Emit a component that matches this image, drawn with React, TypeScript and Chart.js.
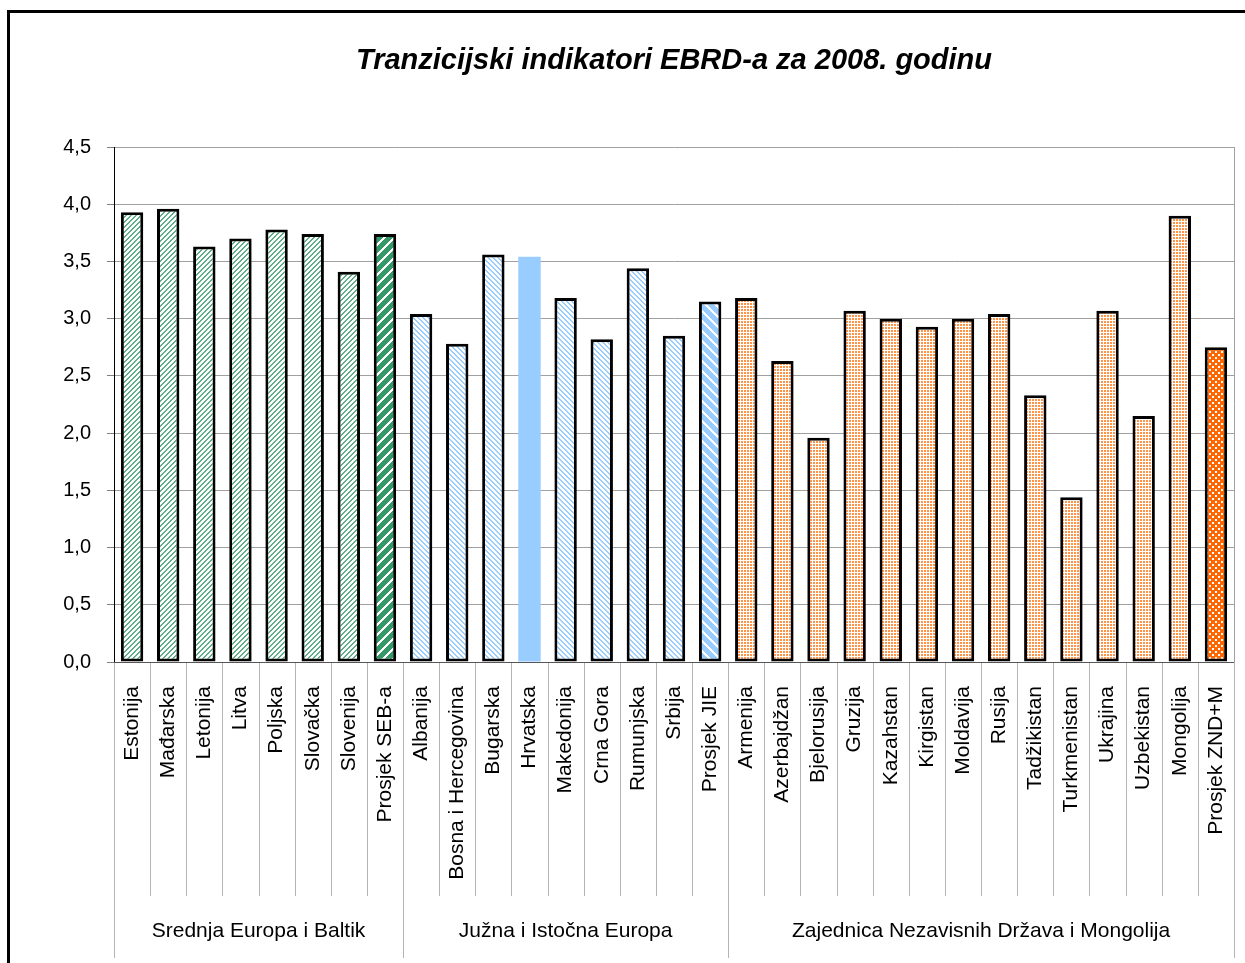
import React, { useEffect, useRef } from 'react';
import { Chart, registerables } from 'chart.js';

Chart.register(...registerables);

const titleText = 'Tranzicijski indikatori EBRD-a za 2008. godinu';

const categories = [
  'Estonija', 'Mađarska', 'Letonija', 'Litva', 'Poljska', 'Slovačka', 'Slovenija', 'Prosjek SEB-a',
  'Albanija', 'Bosna i Hercegovina', 'Bugarska', 'Hrvatska', 'Makedonija', 'Crna Gora', 'Rumunjska', 'Srbija', 'Prosjek JIE',
  'Armenija', 'Azerbajdžan', 'Bjelorusija', 'Gruzija', 'Kazahstan', 'Kirgistan', 'Moldavija', 'Rusija',
  'Tadžikistan', 'Turkmenistan', 'Ukrajina', 'Uzbekistan', 'Mongolija', 'Prosjek ZND+M',
];

const values = [
  3.93, 3.96, 3.63, 3.70, 3.78, 3.74, 3.41, 3.74,
  3.04, 2.78, 3.56, 3.54, 3.18, 2.82, 3.44, 2.85, 3.15,
  3.18, 2.63, 1.96, 3.07, 3.00, 2.93, 3.00, 3.04,
  2.33, 1.44, 3.07, 2.15, 3.90, 2.75,
];

// fill style key per bar
const styleKeys = [
  'gL', 'gL', 'gL', 'gL', 'gL', 'gL', 'gL', 'gD',
  'bL', 'bL', 'bL', 'bS', 'bL', 'bL', 'bL', 'bL', 'bD',
  'oL', 'oL', 'oL', 'oL', 'oL', 'oL', 'oL', 'oL',
  'oL', 'oL', 'oL', 'oL', 'oL', 'oD',
];

const groupNames = ['Srednja Europa i Baltik', 'Južna i Istočna Europa', 'Zajednica Nezavisnih Država i Mongolija'];
const groupSizes = [8, 9, 14];

const yMin = 0;
const yMax = 4.5;
const yStep = 0.5;

const FONT = '"Liberation Sans", Arial, sans-serif';

function makePattern(
  main: CanvasRenderingContext2D,
  size: number,
  bg: string,
  fg: string,
  test: (x: number, y: number) => boolean,
) {
  const c = document.createElement('canvas');
  c.width = size;
  c.height = size;
  const ctx = c.getContext('2d')!;
  ctx.fillStyle = bg;
  ctx.fillRect(0, 0, size, size);
  ctx.fillStyle = fg;
  for (let y = 0; y < size; y++) {
    for (let x = 0; x < size; x++) {
      if (test(x, y)) ctx.fillRect(x, y, 1, 1);
    }
  }
  return main.createPattern(c, 'repeat') as CanvasPattern;
}

const mod = (a: number, n: number) => ((a % n) + n) % n;

export default function App() {
  const ref = useRef<HTMLCanvasElement | null>(null);

  useEffect(() => {
    document.body.style.margin = '0';
    const canvas = ref.current!;
    const mctx = canvas.getContext('2d')!;

    const fills: Record<string, CanvasPattern | string> = {
      gL: makePattern(mctx, 5, '#ffffff', '#5fb088', (x, y) => mod(x + y, 5) < 2),
      gD: makePattern(mctx, 10, '#339966', '#ffffff', (x, y) => mod(x + y, 10) < 3),
      bL: makePattern(mctx, 5, '#ffffff', '#99ccff', (x, y) => mod(x - y, 5) < 2),
      bD: makePattern(mctx, 10, '#99ccff', '#ffffff', (x, y) => mod(x - y, 10) < 3),
      bS: '#99ccff',
      oL: makePattern(mctx, 3, '#ffffff', '#ff9448', (x, y) => x < 2 && y < 2),
      oD: makePattern(mctx, 6, '#ff6600', '#ffffff', (x, y) =>
        (x < 2 && y < 2) || (mod(x - 3, 6) < 2 && mod(y - 3, 6) < 2)),
    };

    const bg = styleKeys.map((k) => fills[k]);
    const bw = styleKeys.map((k) => (k === 'bS' ? 0 : 3));

    const decor = {
      id: 'decor',
      beforeDraw(chart: any) {
        const ctx = chart.ctx as CanvasRenderingContext2D;
        ctx.save();
        ctx.fillStyle = '#ffffff';
        ctx.fillRect(0, 0, chart.width, chart.height);
        ctx.strokeStyle = '#000000';
        ctx.lineWidth = 3;
        ctx.strokeRect(8.5, 11.5, chart.width + 20, chart.height + 20);
        ctx.restore();
      },
      afterDraw(chart: any) {
        const ctx = chart.ctx as CanvasRenderingContext2D;
        const area = chart.chartArea;
        const xs = chart.scales.x;
        const n = categories.length;
        const boundary = (i: number) => {
          if (i <= 0) return area.left;
          if (i >= n) return area.right;
          return (xs.getPixelForValue(i - 1) + xs.getPixelForValue(i)) / 2;
        };
        const groupStarts: number[] = [0];
        groupSizes.forEach((s, i) => groupStarts.push(groupStarts[i] + s));

        ctx.save();
        // separators
        ctx.strokeStyle = '#b4b4b4';
        ctx.lineWidth = 1;
        for (let i = 0; i <= n; i++) {
          const isGroup = groupStarts.includes(i);
          const X = Math.round(boundary(i)) + 0.5;
          ctx.beginPath();
          ctx.moveTo(X, area.bottom);
          ctx.lineTo(X, isGroup ? 958 : 896);
          ctx.stroke();
        }
        // right border of plot
        ctx.strokeStyle = '#a0a0a0';
        ctx.beginPath();
        ctx.moveTo(Math.round(area.right) + 0.5, area.top);
        ctx.lineTo(Math.round(area.right) + 0.5, area.bottom);
        ctx.stroke();
        // x axis line
        ctx.strokeStyle = '#555555';
        ctx.beginPath();
        ctx.moveTo(area.left, Math.round(area.bottom) + 0.5);
        ctx.lineTo(area.right, Math.round(area.bottom) + 0.5);
        ctx.stroke();

        // group labels
        ctx.fillStyle = '#000000';
        ctx.font = `21px ${FONT}`;
        ctx.textAlign = 'center';
        ctx.textBaseline = 'middle';
        groupNames.forEach((g, i) => {
          const cx = (boundary(groupStarts[i]) + boundary(groupStarts[i + 1])) / 2;
          ctx.fillText(g, cx, 931);
        });

        // title
        ctx.font = `bold italic 29px ${FONT}`;
        ctx.fillText(titleText, (area.left + area.right) / 2, 61);
        ctx.restore();
      },
    };

    const chart = new Chart(canvas, {
      type: 'bar',
      data: {
        labels: categories,
        datasets: [
          {
            data: values,
            backgroundColor: bg as any,
            borderColor: '#000000',
            borderWidth: bw as any,
            borderSkipped: false,
            categoryPercentage: 1,
            barPercentage: 0.62,
          },
        ],
      },
      options: {
        animation: false,
        responsive: false,
        devicePixelRatio: 1,
        layout: { padding: { left: 0, right: 11, top: 147, bottom: 0 } },
        plugins: {
          legend: { display: false },
          title: { display: false },
          tooltip: { enabled: false },
        },
        scales: {
          x: {
            grid: { display: false },
            border: { display: false },
            ticks: {
              autoSkip: false,
              minRotation: 90,
              maxRotation: 90,
              padding: 16,
              color: '#000000',
              font: { family: FONT, size: 21 },
            },
            afterFit: (s: any) => {
              s.height = 301;
              s.paddingLeft = 0;
              s.paddingRight = 0;
            },
          },
          y: {
            min: yMin,
            max: yMax,
            ticks: {
              stepSize: yStep,
              padding: 16,
              color: '#000000',
              font: { family: FONT, size: 20 },
              callback: (v: any) => Number(v).toFixed(1).replace('.', ','),
            },
            grid: { color: '#a0a0a0', tickLength: 7, tickColor: '#808080' },
            border: { display: true, color: '#000000', width: 1 },
            afterFit: (s: any) => {
              s.width = 114;
            },
          },
        },
      },
      plugins: [decor],
    });

    return () => {
      chart.destroy();
    };
  }, []);

  return (
    <div style={{ width: 1245, height: 963, overflow: 'hidden', position: 'relative' }}>
      <canvas ref={ref} width={1245} height={963} style={{ display: 'block', width: 1245, height: 963 }} />
    </div>
  );
}
